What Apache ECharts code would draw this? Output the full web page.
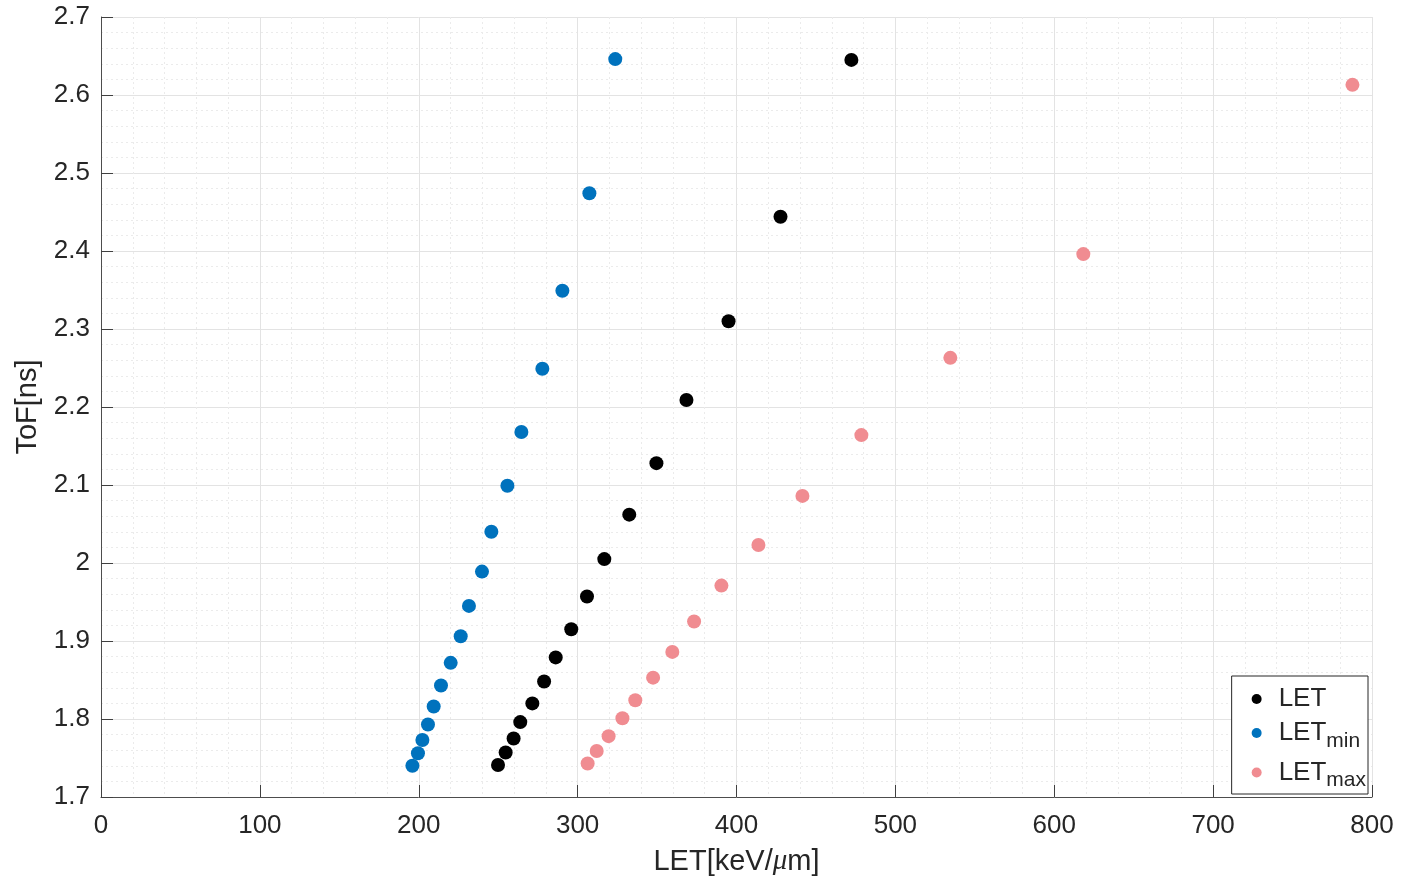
<!DOCTYPE html>
<html>
<head>
<meta charset="utf-8">
<script src="https://cdn.jsdelivr.net/npm/echarts@6/dist/echarts.min.js"></script>
<style>html,body{margin:0;padding:0;background:#fff;}#c{width:1401px;height:879px;}</style>
</head>
<body>
<div id="c"></div>
<script>
// LET (black)
var letX = [472.3, 427.7, 395.0, 368.5, 349.6, 332.5, 316.8, 305.9, 296.0, 286.2, 278.9, 271.5, 263.9, 259.7, 254.7, 249.9];
var letY = [2.645, 2.444, 2.310, 2.209, 2.128, 2.062, 2.005, 1.957, 1.915, 1.879, 1.848, 1.820, 1.796, 1.775, 1.757, 1.741];
// LET min (blue)
var letMinX = [323.7, 307.4, 290.4, 277.8, 264.6, 255.8, 245.7, 239.8, 231.6, 226.4, 220.1, 214.0, 209.4, 205.8, 202.3, 199.5, 196.0];
var letMinY = [2.646, 2.474, 2.349, 2.249, 2.168, 2.099, 2.040, 1.989, 1.945, 1.906, 1.872, 1.843, 1.816, 1.793, 1.773, 1.756, 1.740];
// LET max (pink)
var letMaxX = [787.7, 618.3, 534.6, 478.6, 441.5, 413.8, 390.5, 373.3, 359.6, 347.5, 336.3, 328.2, 319.5, 312.0, 306.3];
var letMaxY = [2.613, 2.396, 2.263, 2.164, 2.086, 2.023, 1.971, 1.925, 1.886, 1.853, 1.824, 1.801, 1.778, 1.759, 1.743];

var seriesNames = ['LET', 'LETmin', 'LETmax'];
var legendLabels = {'LET': 'LET', 'LETmin': 'LET{sub|min}', 'LETmax': 'LET{sub|max}'};
var colors = ['#000000', '#0072BD', '#F08C91'];

function pairs(xs, ys) { return xs.map(function (x, i) { return [x, ys[i]]; }); }

var FONT = 'Liberation Sans, Arial, sans-serif';
var chart = echarts.init(document.getElementById('c'));
var axisCommon = {
  axisLine: { show: true, lineStyle: { color: '#4d4d4d', width: 1 } },
  axisTick: { show: true, inside: true, length: 12, lineStyle: { color: '#404040' } },
  axisLabel: { color: '#262626', fontSize: 26, fontFamily: FONT },
  splitLine: { show: true, lineStyle: { color: '#e3e3e3', width: 1 } },
  minorTick: { show: false, splitNumber: 5 },
  minorSplitLine: { show: true, lineStyle: { color: '#ebebeb', width: 1, type: [2, 3] } },
  nameTextStyle: { color: '#262626', fontSize: 29, fontFamily: FONT }
};
chart.setOption({
  animation: false,
  backgroundColor: '#ffffff',
  grid: { left: 101, right: 29, top: 17, bottom: 82, containLabel: false, outerBoundsMode: 'none' },
  xAxis: Object.assign({}, axisCommon, {
    type: 'value', min: 0, max: 800, interval: 100,
    name: 'LET[keV/{it|μ}m]', nameLocation: 'middle', nameGap: 50,
    nameTextStyle: Object.assign({}, axisCommon.nameTextStyle, { rich: { it: { fontStyle: 'italic', fontSize: 29, color: '#262626', fontFamily: 'Liberation Serif, Times New Roman, serif' } } }),
    axisLabel: Object.assign({}, axisCommon.axisLabel, { margin: 16 })
  }),
  yAxis: Object.assign({}, axisCommon, {
    type: 'value', min: 1.7, max: 2.7, interval: 0.1,
    name: 'ToF[ns]', nameLocation: 'middle', nameGap: 50,
    axisLabel: Object.assign({}, axisCommon.axisLabel, { margin: 11, formatter: function (v) { return String(Math.round(v * 10) / 10); } })
  }),
  legend: {
    orient: 'vertical', right: 33, bottom: 85,
    data: seriesNames,
    icon: 'circle', itemWidth: 10, itemHeight: 10, itemGap: 8,
    backgroundColor: '#ffffff', borderColor: '#262626', borderWidth: 1, borderRadius: 0,
    padding: [10, 2, 3, 20],
    formatter: function (n) { return legendLabels[n]; },
    textStyle: {
      color: '#262626', fontSize: 26, fontFamily: FONT, padding: [0, 0, 0, 12],
      rich: { sub: { fontSize: 21, color: '#262626', fontFamily: FONT, verticalAlign: 'bottom', padding: [16, 0, 0, 0] } }
    }
  },
  series: [
    { name: 'LET', type: 'scatter', data: pairs(letX, letY), symbolSize: 14, itemStyle: { color: colors[0], opacity: 1 } },
    { name: 'LETmin', type: 'scatter', data: pairs(letMinX, letMinY), symbolSize: 14, itemStyle: { color: colors[1], opacity: 1 } },
    { name: 'LETmax', type: 'scatter', data: pairs(letMaxX, letMaxY), symbolSize: 14, itemStyle: { color: colors[2], opacity: 1 } }
  ]
});
</script>
</body>
</html>
